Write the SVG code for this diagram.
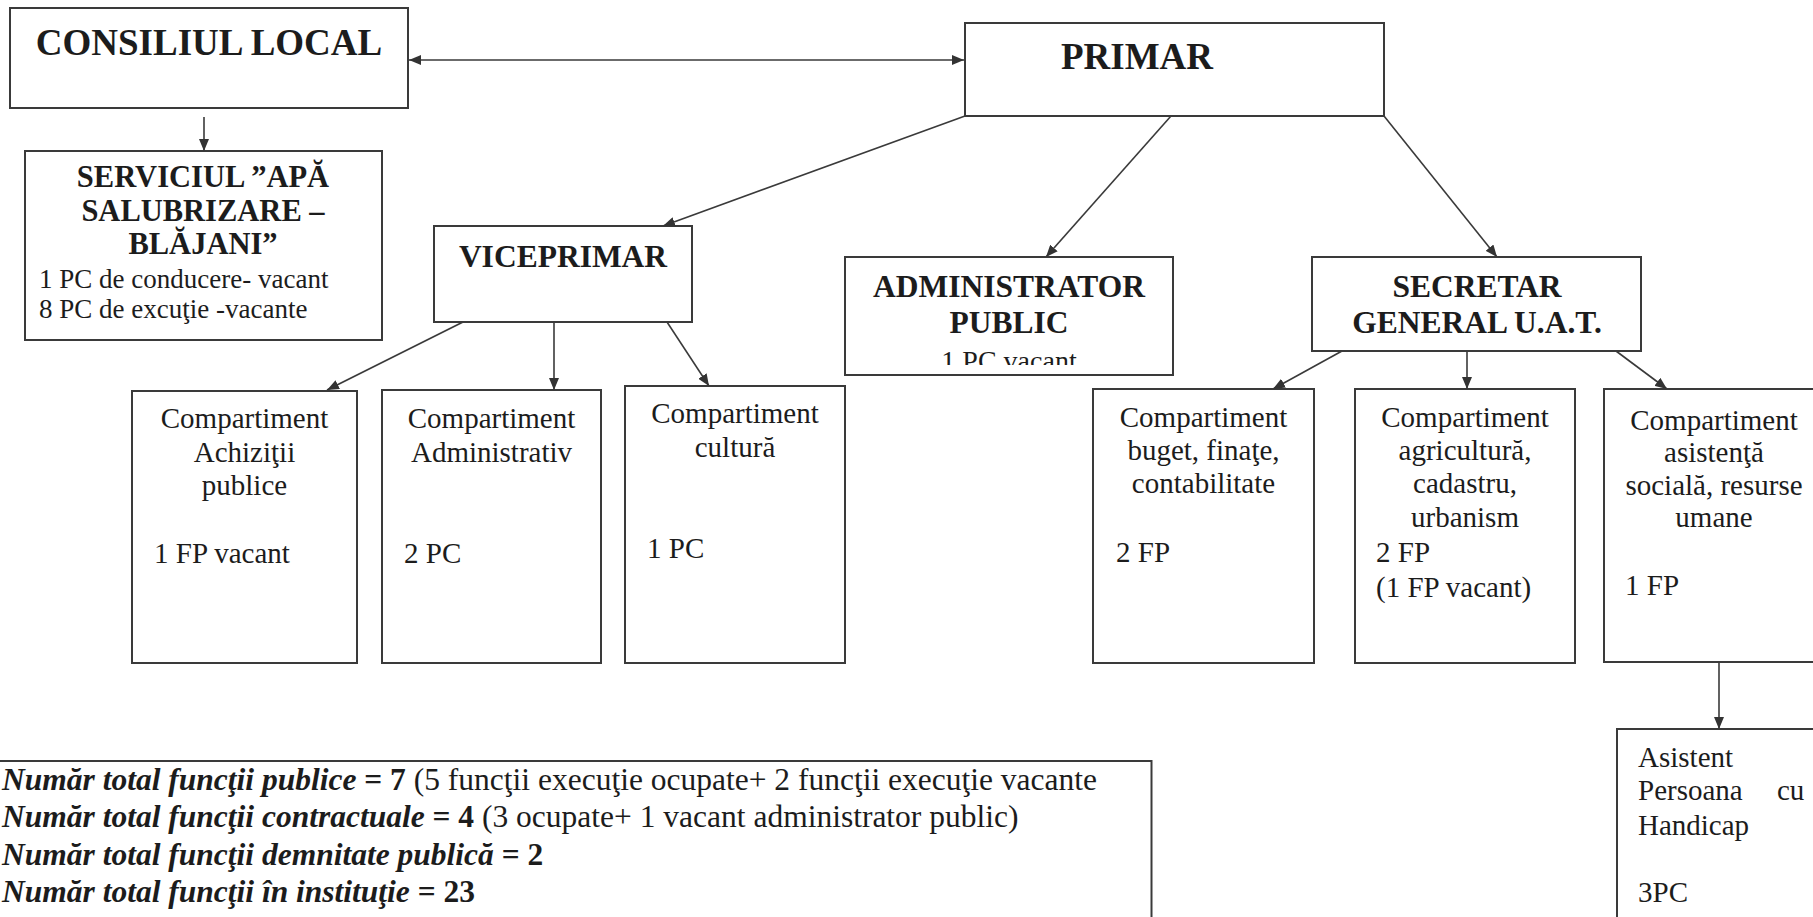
<svg xmlns="http://www.w3.org/2000/svg" width="1813" height="917" viewBox="0 0 1813 917">
<style>
text{font-family:"Liberation Serif","Times New Roman",serif;fill:#1c1c1c}
.box{fill:#fff;stroke:#3a3a3a;stroke-width:2}
.t{font-weight:bold}
.b37{font-size:37px;font-weight:bold}
.b31{font-size:31.5px;font-weight:bold}
.b29{font-size:30.5px;font-weight:bold}
.r27{font-size:27px}
.r29{font-size:29px}
.r28{font-size:28px}
.s{font-size:31.5px}
.bi{font-weight:bold;font-style:italic}
.c{text-anchor:middle}
.ln{fill:none;stroke:#3a3a3a;stroke-width:1.6}
</style>
<defs>
<marker id="ah" viewBox="0 0 12 10" refX="12" refY="5" markerWidth="12" markerHeight="10" markerUnits="userSpaceOnUse" orient="auto-start-reverse">
<path d="M0,0 L12,5 L0,10 z" fill="#333"/>
</marker>
<clipPath id="admclip"><rect x="845" y="257" width="328" height="108"/></clipPath>
</defs>
<rect width="1813" height="917" fill="#fff"/>

<g id="consiliul-local">
<rect class="box" x="10" y="8" width="398" height="100"/>
<text class="b37 c" x="209" y="55">CONSILIUL LOCAL</text>
</g>

<g id="primar">
<rect class="box" x="965" y="23" width="419" height="93"/>
<text class="b37 c" x="1137" y="69">PRIMAR</text>
</g>

<g id="serviciul">
<rect class="box" x="25" y="151" width="357" height="189"/>
<text class="b29 c" x="203" y="187">SERVICIUL ”APĂ</text>
<text class="b29 c" x="203" y="221">SALUBRIZARE –</text>
<text class="b29 c" x="203" y="254">BLĂJANI”</text>
<text class="r27" x="39" y="288">1 PC de conducere- vacant</text>
<text class="r27" x="39" y="318">8 PC de excuţie -vacante</text>
</g>

<g id="viceprimar">
<rect class="box" x="434" y="226" width="258" height="96"/>
<text class="b31 c" x="563" y="267">VICEPRIMAR</text>
</g>

<g id="administrator">
<rect class="box" x="845" y="257" width="328" height="118"/>
<text class="b31 c" x="1009" y="297">ADMINISTRATOR</text>
<text class="b31 c" x="1009" y="333">PUBLIC</text>
<text class="r28 c" x="1009" y="370" clip-path="url(#admclip)">1 PC vacant</text>
</g>

<g id="secretar">
<rect class="box" x="1312" y="257" width="329" height="94"/>
<text class="b31 c" x="1477" y="297">SECRETAR</text>
<text class="b31 c" x="1477" y="333">GENERAL U.A.T.</text>
</g>

<g id="achizitii">
<rect class="box" x="132" y="391" width="225" height="272"/>
<text class="r29 c" x="244.5" y="428">Compartiment</text>
<text class="r29 c" x="244.5" y="462">Achiziţii</text>
<text class="r29 c" x="244.5" y="495">publice</text>
<text class="r29" x="154" y="563">1 FP vacant</text>
</g>

<g id="administrativ">
<rect class="box" x="382" y="390" width="219" height="273"/>
<text class="r29 c" x="491.5" y="428">Compartiment</text>
<text class="r29 c" x="491.5" y="462">Administrativ</text>
<text class="r29" x="404" y="563">2 PC</text>
</g>

<g id="cultura">
<rect class="box" x="625" y="386" width="220" height="277"/>
<text class="r29 c" x="735" y="423">Compartiment</text>
<text class="r29 c" x="735" y="457">cultură</text>
<text class="r29" x="647" y="558">1 PC</text>
</g>

<g id="buget">
<rect class="box" x="1093" y="389" width="221" height="274"/>
<text class="r29 c" x="1203.5" y="427">Compartiment</text>
<text class="r29 c" x="1203.5" y="460">buget, finaţe,</text>
<text class="r29 c" x="1203.5" y="493">contabilitate</text>
<text class="r29" x="1116" y="562">2 FP</text>
</g>

<g id="agricultura">
<rect class="box" x="1355" y="389" width="220" height="274"/>
<text class="r29 c" x="1465" y="427">Compartiment</text>
<text class="r29 c" x="1465" y="460">agricultură,</text>
<text class="r29 c" x="1465" y="493">cadastru,</text>
<text class="r29 c" x="1465" y="527">urbanism</text>
<text class="r29" x="1376" y="562">2 FP</text>
<text class="r29" x="1376" y="597">(1 FP vacant)</text>
</g>

<g id="asistenta">
<rect class="box" x="1604" y="389" width="230" height="273"/>
<text class="r29 c" x="1714" y="430">Compartiment</text>
<text class="r29 c" x="1714" y="462">asistenţă</text>
<text class="r29 c" x="1714" y="495">socială, resurse</text>
<text class="r29 c" x="1714" y="527">umane</text>
<text class="r29" x="1625" y="595">1 FP</text>
</g>

<g id="asistent-persoana">
<rect class="box" x="1617" y="729" width="220" height="220"/>
<text class="r29" x="1638" y="767">Asistent</text>
<text class="r29" x="1638" y="800">Persoana</text>
<text class="r29" x="1777" y="800">cu</text>
<text class="r29" x="1638" y="835">Handicap</text>
<text class="r29" x="1638" y="902">3PC</text>
</g>

<g id="sumar">
<rect class="box" x="-20" y="761" width="1171.5" height="200"/>
<text class="s" x="2" y="790"><tspan class="bi">Număr total funcţii publice</tspan><tspan class="t"> = 7 </tspan>(5 funcţii execuţie ocupate+ 2 funcţii execuţie vacante</text>
<text class="s" x="2" y="827"><tspan class="bi">Număr total funcţii contractuale</tspan><tspan class="t"> = 4 </tspan>(3 ocupate+ 1 vacant administrator public)</text>
<text class="s" x="2" y="865"><tspan class="bi">Număr total funcţii demnitate publică</tspan><tspan class="t"> = 2</tspan></text>
<text class="s" x="2" y="902"><tspan class="bi">Număr total funcţii în instituţie</tspan><tspan class="t"> = 23</tspan></text>
</g>

<g id="connectors">
<line class="ln" x1="409" y1="60" x2="964" y2="60" marker-start="url(#ah)" marker-end="url(#ah)"/>
<line class="ln" x1="204" y1="117" x2="204" y2="151" marker-end="url(#ah)"/>
<line class="ln" x1="965" y1="116" x2="663" y2="226" marker-end="url(#ah)"/>
<line class="ln" x1="1171" y1="116" x2="1046" y2="257" marker-end="url(#ah)"/>
<line class="ln" x1="1384" y1="116" x2="1497" y2="257" marker-end="url(#ah)"/>
<line class="ln" x1="463" y1="322" x2="327" y2="390" marker-end="url(#ah)"/>
<line class="ln" x1="554" y1="322" x2="554" y2="390" marker-end="url(#ah)"/>
<line class="ln" x1="667" y1="322" x2="709" y2="386" marker-end="url(#ah)"/>
<line class="ln" x1="1342" y1="351" x2="1273" y2="389" marker-end="url(#ah)"/>
<line class="ln" x1="1467" y1="351" x2="1467" y2="389" marker-end="url(#ah)"/>
<line class="ln" x1="1616" y1="351" x2="1667" y2="389" marker-end="url(#ah)"/>
<line class="ln" x1="1719" y1="662" x2="1719" y2="729" marker-end="url(#ah)"/>
</g>
</svg>
